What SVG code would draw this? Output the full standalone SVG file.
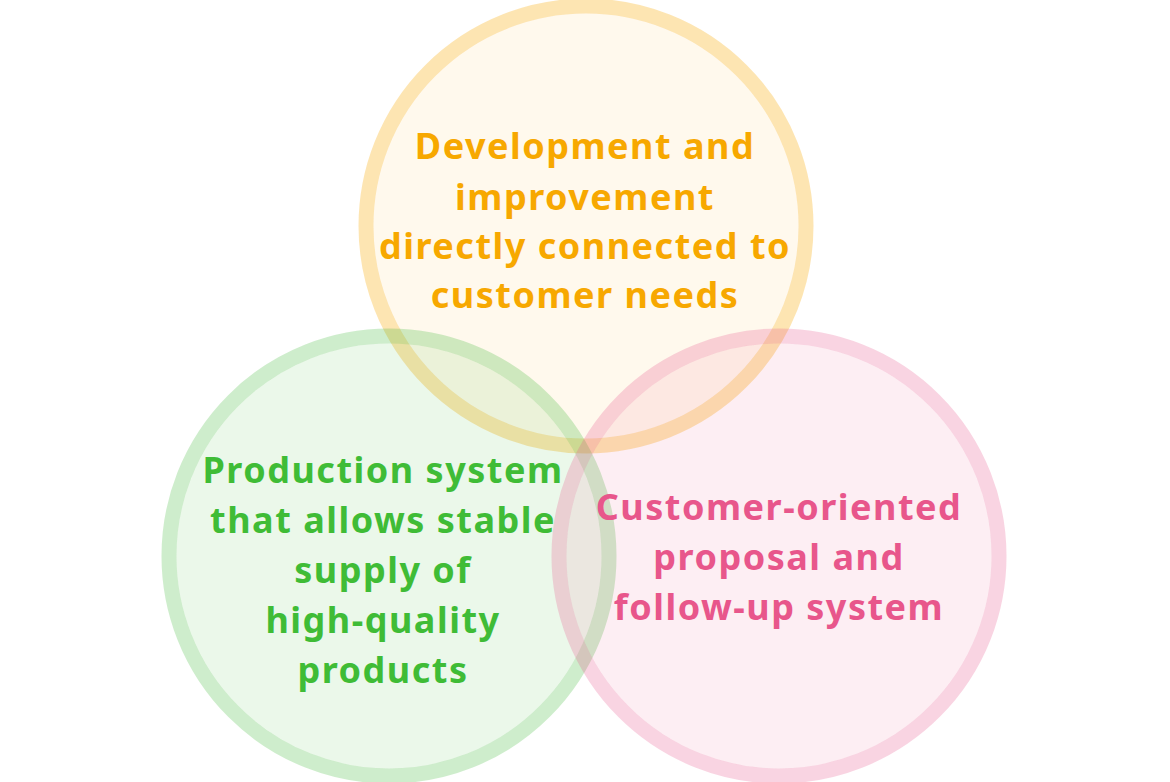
<svg xmlns="http://www.w3.org/2000/svg" width="1170" height="782" viewBox="0 0 1170 782">
<style>
.ring{stroke-width:15;fill:none}
.lbl{font-family:"Noto Sans","Open Sans","DejaVu Sans",sans-serif;font-weight:bold;font-size:36px;letter-spacing:1.5px;text-anchor:middle}
.o .bg{fill:#f9a800;fill-opacity:0.07}
.g .bg{fill:#3cb832;fill-opacity:0.1}
.p .bg{fill:#e8548a;fill-opacity:0.1}
.o .ring{stroke:#f9a800;stroke-opacity:0.3}
.g .ring{stroke:#3cb832;stroke-opacity:0.25}
.p .ring{stroke:#e8548a;stroke-opacity:0.25}
.o text{fill:#f7a800}
.g text{fill:#3fbc36}
.p text{fill:#e8568b}
</style>
<rect width="1170" height="782" fill="#ffffff"/>
<g id="node-development" class="o">
<circle class="bg" cx="586" cy="226" r="212.5"/>
<circle class="ring" cx="586" cy="226" r="220"/>
<text class="lbl"><tspan x="585" y="159">Development and</tspan><tspan x="585" y="210">improvement</tspan><tspan x="585" y="259">directly connected to</tspan><tspan x="585" y="308">customer needs</tspan></text>
</g>
<g id="node-production" class="g">
<circle class="bg" cx="389" cy="556" r="212.5"/>
<circle class="ring" cx="389" cy="556" r="220"/>
<text class="lbl"><tspan x="383" y="483">Production system</tspan><tspan x="383" y="533">that allows stable</tspan><tspan x="383" y="583">supply of</tspan><tspan x="383" y="633">high-quality</tspan><tspan x="383" y="683">products</tspan></text>
</g>
<g id="node-customer" class="p">
<circle class="bg" cx="779" cy="556" r="212.5"/>
<circle class="ring" cx="779" cy="556" r="220"/>
<text class="lbl"><tspan x="779" y="520">Customer-oriented</tspan><tspan x="779" y="570">proposal and</tspan><tspan x="779" y="620">follow-up system</tspan></text>
</g>
</svg>
